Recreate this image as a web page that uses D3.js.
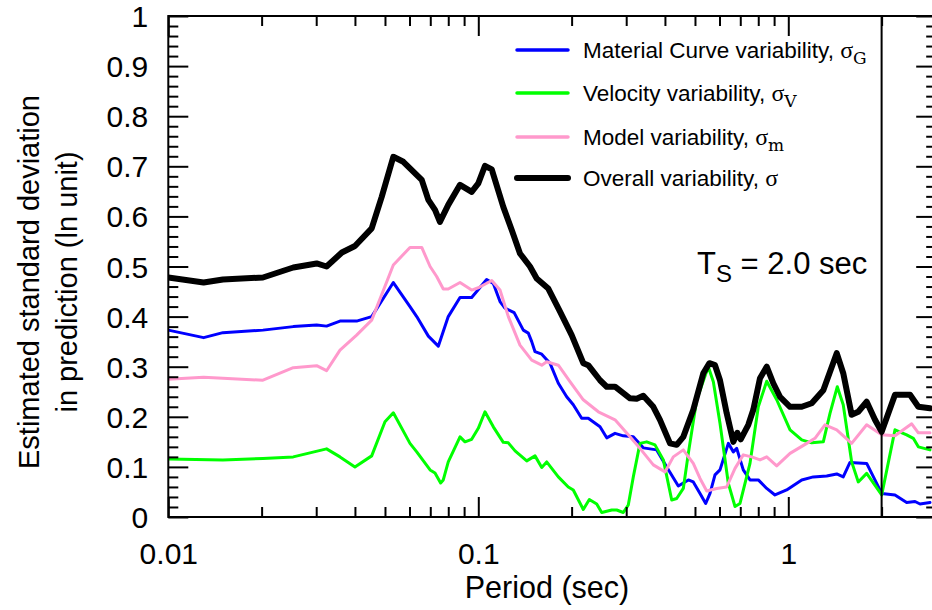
<!DOCTYPE html>
<html>
<head>
<meta charset="utf-8">
<script src="https://cdn.jsdelivr.net/npm/d3@7"></script>
<style>
  html, body { margin: 0; padding: 0; background: #fff; }
  svg { display: block; }
  text { font-family: "Liberation Sans", Arial, Helvetica, sans-serif; fill: #000; }
</style>
</head>
<body>
<svg id="chart" width="932" height="610"></svg>
<script>
// ---------------- data ----------------
const xMajorTicks = [0.01, 0.1, 1];
const xMajorLabels = ["0.01", "0.1", "1"];
const xMinorTicks = [0.02,0.03,0.04,0.05,0.06,0.07,0.08,0.09,0.2,0.3,0.4,0.5,0.6,0.7,0.8,0.9,2,3];
const yMajorTicks = [0,0.1,0.2,0.3,0.4,0.5,0.6,0.7,0.8,0.9,1];
const yMajorLabels = ["0","0.1","0.2","0.3","0.4","0.5","0.6","0.7","0.8","0.9","1"];
const yMinorTicks = d3.range(0.02, 1, 0.02).filter(v => Math.abs(v*10 - Math.round(v*10)) > 1e-6);

const periodTs = 2.0;

const overallPeriod = [0.0100,0.0130,0.0150,0.0202,0.0253,0.0301,0.0324,0.0363,0.0400,0.0453,0.0488,0.0532,0.0573,0.0657,0.0690,0.0725,0.0752,0.0800,0.0873,0.0952,0.1000,0.1051,0.1105,0.1204,0.1282,0.1363,0.1468,0.1543,0.1682,0.1835,0.2001,0.2181,0.2263,0.2470,0.2596,0.2761,0.3086,0.3243,0.3406,0.3669,0.3855,0.4154,0.4365,0.4585,0.4938,0.5319,0.5562,0.5802,0.6021,0.6329,0.6648,0.6848,0.7022,0.7430,0.7711,0.8105,0.8519,0.8945,0.9402,1.013,1.105,1.190,1.297,1.433,1.504,1.601,1.682,1.790,1.904,2.001,2.209,2.470,2.627,2.865];
const overallSigma = [0.478,0.468,0.474,0.478,0.498,0.506,0.500,0.528,0.541,0.576,0.639,0.719,0.709,0.673,0.633,0.613,0.589,0.623,0.663,0.649,0.666,0.701,0.694,0.619,0.573,0.526,0.500,0.476,0.456,0.410,0.363,0.307,0.303,0.273,0.260,0.260,0.237,0.236,0.242,0.220,0.194,0.147,0.144,0.160,0.214,0.287,0.307,0.303,0.273,0.207,0.150,0.168,0.155,0.184,0.214,0.277,0.300,0.267,0.240,0.220,0.220,0.227,0.253,0.327,0.287,0.204,0.210,0.230,0.194,0.170,0.244,0.244,0.220,0.217];

const materialPeriod = [0.0100,0.0130,0.0150,0.0202,0.0253,0.0301,0.0324,0.0358,0.0405,0.0453,0.0532,0.0602,0.0633,0.0690,0.0743,0.0800,0.0873,0.0952,0.1064,0.1118,0.1175,0.1219,0.1305,0.1397,0.1450,0.1487,0.1524,0.1602,0.1703,0.1812,0.1928,0.2025,0.2155,0.2263,0.2470,0.2596,0.2761,0.2936,0.3162,0.3406,0.3762,0.4053,0.4418,0.4759,0.4938,0.5191,0.5415,0.5591,0.5802,0.6021,0.6406,0.6648,0.6817,0.7158,0.7524,0.8003,0.8519,0.9059,0.988,1.105,1.204,1.330,1.433,1.504,1.581,1.790,2.001,2.209,2.409,2.563,2.660,2.865];
const materialSigma = [0.373,0.358,0.368,0.373,0.380,0.383,0.381,0.391,0.391,0.400,0.468,0.420,0.400,0.361,0.341,0.400,0.438,0.438,0.474,0.466,0.430,0.417,0.408,0.373,0.367,0.350,0.330,0.325,0.307,0.267,0.240,0.224,0.197,0.197,0.180,0.158,0.167,0.162,0.160,0.138,0.134,0.100,0.062,0.074,0.070,0.047,0.027,0.047,0.084,0.094,0.147,0.130,0.137,0.094,0.074,0.074,0.057,0.044,0.054,0.074,0.080,0.082,0.086,0.080,0.109,0.107,0.047,0.044,0.029,0.031,0.026,0.029];

const modelPeriod = [0.0100,0.0130,0.0150,0.0202,0.0253,0.0301,0.0324,0.0358,0.0405,0.0453,0.0532,0.0602,0.0657,0.0699,0.0734,0.0771,0.0800,0.0873,0.0952,0.1005,0.1105,0.1175,0.1250,0.1363,0.1487,0.1602,0.1662,0.1812,0.1976,0.2181,0.2439,0.2761,0.3086,0.3323,0.3669,0.4003,0.4256,0.4585,0.4938,0.5191,0.5456,0.5875,0.6329,0.6732,0.7158,0.7619,0.8105,0.8519,0.9175,1.013,1.147,1.219,1.313,1.433,1.601,1.790,2.001,2.209,2.350,2.501,2.627,2.865];
const modelSigma = [0.275,0.279,0.277,0.273,0.298,0.302,0.292,0.333,0.363,0.393,0.503,0.538,0.538,0.500,0.480,0.455,0.455,0.468,0.453,0.458,0.472,0.453,0.400,0.343,0.313,0.303,0.310,0.303,0.270,0.234,0.210,0.194,0.160,0.137,0.104,0.090,0.120,0.134,0.107,0.077,0.052,0.057,0.060,0.097,0.124,0.120,0.114,0.120,0.102,0.127,0.147,0.157,0.184,0.174,0.147,0.184,0.164,0.162,0.174,0.186,0.168,0.168];

const velocityPeriod = [0.0100,0.0150,0.0202,0.0253,0.0324,0.0358,0.0400,0.0453,0.0500,0.0532,0.0602,0.0633,0.0699,0.0725,0.0756,0.0771,0.0800,0.0873,0.0906,0.0952,0.1000,0.1051,0.1118,0.1204,0.1250,0.1314,0.1433,0.1524,0.1602,0.1662,0.1812,0.1951,0.2025,0.2181,0.2281,0.2410,0.2501,0.2694,0.2796,0.2936,0.3047,0.3162,0.3323,0.3493,0.3715,0.3953,0.4207,0.4365,0.4585,0.4759,0.5065,0.5520,0.5731,0.6021,0.6406,0.6732,0.6986,0.7524,0.8003,0.8519,0.9175,1.013,1.105,1.190,1.297,1.363,1.439,1.504,1.601,1.682,1.790,2.001,2.209,2.409,2.531,2.627,2.865];
const velocitySigma = [0.116,0.114,0.117,0.120,0.136,0.120,0.100,0.122,0.190,0.208,0.147,0.130,0.094,0.088,0.068,0.074,0.110,0.160,0.150,0.155,0.177,0.210,0.180,0.149,0.148,0.132,0.112,0.122,0.099,0.110,0.080,0.060,0.054,0.015,0.035,0.026,0.009,0.014,0.014,0.009,0.024,0.080,0.147,0.150,0.144,0.114,0.034,0.037,0.057,0.127,0.234,0.300,0.270,0.187,0.067,0.021,0.027,0.107,0.220,0.271,0.234,0.174,0.154,0.148,0.150,0.207,0.260,0.224,0.110,0.070,0.087,0.044,0.174,0.164,0.157,0.140,0.134];

const seriesNames = ["Material Curve variability, ", "Velocity variability, ", "Model variability, ", "Overall variability, "];
const seriesSubs = ["G", "V", "m", ""];
const seriesColors = ["#0000ff", "#00ff00", "#ff99cc", "#000000"];
const seriesWidths = [3, 3, 3, 6];

// ---------------- layout ----------------
const svg = d3.select("#chart");
const L = 168.3, R = 936.2, T = 16, B = 517;
const x = d3.scaleLog().domain([0.01, 3]).range([L, R]);
const y = d3.scaleLinear().domain([0, 1]).range([B, T]);

// lines
const series = [
  {p: materialPeriod, v: materialSigma},
  {p: velocityPeriod, v: velocitySigma},
  {p: modelPeriod, v: modelSigma},
  {p: overallPeriod, v: overallSigma}
];
svg.append("clipPath").attr("id", "clip")
  .append("rect").attr("x", L).attr("y", T).attr("width", R - L).attr("height", B - T);
const lineGen = d3.line().x(d => x(d[0])).y(d => y(d[1]));
const plot = svg.append("g").attr("clip-path", "url(#clip)");
series.forEach((s, i) => {
  plot.append("path")
    .datum(s.p.map((p, j) => [p, s.v[j]]))
    .attr("d", lineGen)
    .attr("fill", "none")
    .attr("stroke", seriesColors[i])
    .attr("stroke-width", seriesWidths[i])
    .attr("stroke-linejoin", "round")
    .attr("stroke-linecap", "round");
});

// Ts line
svg.append("line")
  .attr("x1", x(periodTs)).attr("x2", x(periodTs))
  .attr("y1", T).attr("y2", B)
  .attr("stroke", "#000").attr("stroke-width", 2);

// axes (inward ticks)
function styleAxis(g) {
  g.select(".domain").remove();
  g.selectAll(".tick line").attr("stroke", "#000").attr("stroke-width", 2);
}
const axB = svg.append("g").attr("transform", `translate(0,${B})`)
  .call(d3.axisBottom(x).tickValues(xMajorTicks).tickSize(-20).tickPadding(26)
    .tickFormat((d, i) => xMajorLabels[i]));
styleAxis(axB);
axB.selectAll(".tick text").attr("font-size", 30).attr("font-family", "Liberation Sans, Arial, sans-serif")
  .attr("dy", 0).attr("y", 47);
svg.append("g").attr("transform", `translate(0,${B})`)
  .call(d3.axisBottom(x).tickValues(xMinorTicks).tickSize(-10).tickFormat(""))
  .call(styleAxis);
svg.append("g").attr("transform", `translate(0,${T})`)
  .call(d3.axisTop(x).tickValues(xMajorTicks).tickSize(-20).tickFormat(""))
  .call(styleAxis);
svg.append("g").attr("transform", `translate(0,${T})`)
  .call(d3.axisTop(x).tickValues(xMinorTicks).tickSize(-10).tickFormat(""))
  .call(styleAxis);

const axL = svg.append("g").attr("transform", `translate(${L},0)`)
  .call(d3.axisLeft(y).tickValues(yMajorTicks).tickSize(-20).tickPadding(20)
    .tickFormat((d, i) => yMajorLabels[i]));
styleAxis(axL);
axL.selectAll(".tick text").attr("font-size", 30).attr("font-family", "Liberation Sans, Arial, sans-serif")
  .attr("x", -20).attr("dy", "0.35em");
svg.append("g").attr("transform", `translate(${L},0)`)
  .call(d3.axisLeft(y).tickValues(yMinorTicks).tickSize(-10).tickFormat(""))
  .call(styleAxis);
svg.append("g").attr("transform", `translate(${R},0)`)
  .call(d3.axisRight(y).tickValues(yMajorTicks).tickSize(-20).tickFormat(""))
  .call(styleAxis);
svg.append("g").attr("transform", `translate(${R},0)`)
  .call(d3.axisRight(y).tickValues(yMinorTicks).tickSize(-10).tickFormat(""))
  .call(styleAxis);

// frame
svg.append("rect").attr("x", L).attr("y", T).attr("width", R - L).attr("height", B - T)
  .attr("fill", "none").attr("stroke", "#000").attr("stroke-width", 2);

// axis titles
svg.append("text").attr("x", 547).attr("y", 598)
  .attr("text-anchor", "middle").attr("font-size", 30.5).text("Period (sec)");
const yt = svg.append("g").attr("transform", "translate(0,282) rotate(-90)");
yt.append("text").attr("x", 0).attr("y", 39).attr("text-anchor", "middle").attr("font-size", 29)
  .text("Estimated standard deviation");
yt.append("text").attr("x", 0).attr("y", 77).attr("text-anchor", "middle").attr("font-size", 29)
  .text("in prediction (ln unit)");

// legend
const legY = [50, 93, 137, 178];
seriesNames.forEach((name, i) => {
  svg.append("line").attr("x1", 517).attr("x2", 568).attr("y1", legY[i]).attr("y2", legY[i])
    .attr("stroke", seriesColors[i]).attr("stroke-width", seriesWidths[i] === 6 ? 6 : 3.5)
    .attr("stroke-linecap", "round");
  const t = svg.append("text").attr("x", 583).attr("y", legY[i] + 8).attr("font-size", 22.5);
  t.append("tspan").text(name);
  t.append("tspan").attr("font-family", "Liberation Serif, Times New Roman, serif")
    .attr("font-size", 24).text("σ");
  if (seriesSubs[i]) {
    t.append("tspan").attr("font-family", "DejaVu Serif, Liberation Serif, serif")
      .attr("font-size", 17).attr("dy", 6).text(seriesSubs[i]);
  }
});

// Ts annotation
const ts = svg.append("text").attr("x", 697).attr("y", 274).attr("font-size", 31);
ts.append("tspan").text("T");
ts.append("tspan").attr("font-size", 24).attr("dy", 8).text("S");
ts.append("tspan").attr("dy", -8).text(" = 2.0 sec");
</script>
</body>
</html>
